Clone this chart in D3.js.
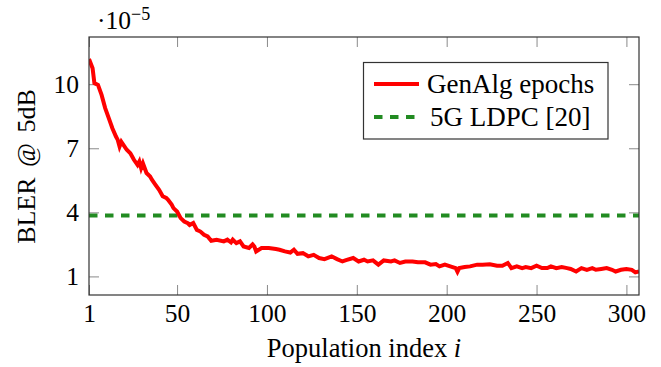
<!DOCTYPE html>
<html>
<head>
<meta charset="utf-8">
<script src="https://cdn.jsdelivr.net/npm/d3@7"></script>
<style>
  body { margin: 0; background: #fff; }
  text { font-family: "Liberation Serif", "Times New Roman", serif; fill: #000; }
</style>
</head>
<body>
<script>
// population index and BLER (x 1e-5)
const popIndex = [1, 3, 4, 6, 8, 10, 12, 14, 16, 17, 18, 19, 22, 24, 26, 28, 29, 30, 31, 33,
  35, 36, 38, 40, 42, 44, 45, 47, 48, 50, 52, 54, 56, 57, 59, 61, 63, 65, 67, 69,
  72, 76, 78, 80, 81, 83, 85, 87, 90, 92, 93, 94, 97, 101, 105, 107, 110, 113, 115, 117,
  120, 123, 126, 129, 132, 136, 139, 142, 144, 148, 151, 154, 156, 159, 162, 165, 169, 171, 174, 177,
  181, 184, 188, 191, 194, 196, 199, 202, 205, 206, 207, 210, 213, 217, 220, 224, 228, 231, 234, 236,
  239, 242, 244, 247, 250, 253, 256, 258, 261, 264, 267, 269, 272, 275, 278, 281, 283, 286, 289, 292,
  294, 297, 300, 303, 305, 307];
const genAlgBler = [11.18, 10.75, 10.05, 9.97, 9.5, 8.88, 8.41, 7.94, 7.55, 7.39, 7.08, 7.3, 6.93, 6.77, 6.46, 6.22, 6.38, 6.07, 6.3, 5.84,
  5.68, 5.53, 5.29, 5.06, 4.75, 4.67, 4.59, 4.36, 4.2, 4.04, 3.73, 3.57, 3.49, 3.41, 3.5, 3.18, 3.1, 2.95, 2.87, 2.67,
  2.72, 2.64, 2.72, 2.59, 2.72, 2.56, 2.64, 2.4, 2.33, 2.5, 2.4, 2.17, 2.33, 2.33, 2.28, 2.25, 2.17, 2.12, 2.25, 2.06,
  2.09, 1.94, 2.01, 1.86, 1.81, 1.94, 1.81, 1.7, 1.76, 1.86, 1.7, 1.78, 1.7, 1.75, 1.55, 1.75, 1.7, 1.75, 1.63, 1.7,
  1.7, 1.66, 1.66, 1.55, 1.58, 1.47, 1.55, 1.47, 1.39, 1.22, 1.39, 1.44, 1.47, 1.55, 1.55, 1.57, 1.5, 1.5, 1.63, 1.39,
  1.47, 1.39, 1.44, 1.39, 1.5, 1.39, 1.39, 1.47, 1.39, 1.44, 1.39, 1.35, 1.23, 1.39, 1.31, 1.39, 1.31, 1.35, 1.39, 1.31,
  1.23, 1.31, 1.35, 1.31, 1.19, 1.23];
const ldpcBler = 3.85;

const xTicks = [1, 50, 100, 150, 200, 250, 300];
const yTicks = [1, 4, 7, 10];
const seriesNames = ["GenAlg epochs", "5G LDPC [20]"];

function main(){
    const width = 661, height = 367;
    const left = 89, right = 639, top = 37, bottom = 295;
    const tickLen = 10;

    const svg = d3.select("body").append("svg")
        .attr("width", width)
        .attr("height", height);

    const xScale = d3.scaleLinear().domain([1, 307]).range([left, right]);
    const yScale = d3.scaleLinear().domain([0.13, 12.21]).range([bottom, top]);

    // ticks: inward, mirrored on all sides
    svg.append("g")
        .attr("transform", "translate(0," + bottom + ")")
        .call(d3.axisBottom(xScale).tickValues(xTicks).tickSize(-tickLen).tickPadding(9));
    svg.append("g")
        .attr("transform", "translate(0," + top + ")")
        .call(d3.axisTop(xScale).tickValues(xTicks).tickSize(-tickLen).tickFormat(""));
    svg.append("g")
        .attr("transform", "translate(" + left + ",0)")
        .call(d3.axisLeft(yScale).tickValues(yTicks).tickSize(-tickLen).tickPadding(10));
    svg.append("g")
        .attr("transform", "translate(" + right + ",0)")
        .call(d3.axisRight(yScale).tickValues(yTicks).tickSize(-tickLen).tickFormat(""));

    svg.selectAll(".domain").remove();
    svg.selectAll(".tick line").attr("stroke", "#8a8a8a").attr("stroke-width", 1);
    svg.selectAll(".tick text")
        .style("font-family", "'Liberation Serif', 'Times New Roman', serif")
        .style("font-size", "25.5px")
        .attr("fill", "#000");

    svg.append("clipPath").attr("id", "plotClip")
        .append("rect")
        .attr("x", left).attr("y", top)
        .attr("width", right - left).attr("height", bottom - top);

    // 5G LDPC reference
    svg.append("line")
        .attr("clip-path", "url(#plotClip)")
        .attr("x1", xScale(1)).attr("x2", xScale(307))
        .attr("y1", yScale(ldpcBler)).attr("y2", yScale(ldpcBler))
        .attr("stroke", "#228b22")
        .attr("stroke-width", 4)
        .attr("stroke-dasharray", "8.5,7.5");

    const line = d3.line()
        .x((d, i) => xScale(popIndex[i]))
        .y(d => yScale(d));

    svg.append("path")
        .datum(genAlgBler)
        .attr("clip-path", "url(#plotClip)")
        .attr("d", line)
        .attr("fill", "none")
        .attr("stroke", "#ff0000")
        .attr("stroke-width", 4)
        .attr("stroke-linejoin", "miter");

    // frame
    svg.append("rect")
        .attr("x", left).attr("y", top)
        .attr("width", right - left).attr("height", bottom - top)
        .attr("fill", "none")
        .attr("stroke", "#333")
        .attr("stroke-width", 1.2);

    // scale factor label
    const sf = svg.append("text")
        .attr("x", 97).attr("y", 28.5)
        .style("font-size", "25.5px");
    sf.append("tspan").text("\u00b710");
    sf.append("tspan").attr("dy", -9).style("font-size", "18px").text("\u22125");

    // axis labels
    svg.append("text")
        .attr("x", 364).attr("y", 357)
        .attr("text-anchor", "middle")
        .style("font-size", "26.5px")
        .html("Population index <tspan font-style='italic'>i</tspan>");

    svg.append("text")
        .attr("transform", "translate(35,166.5) rotate(-90)")
        .attr("text-anchor", "middle")
        .style("font-size", "26px")
        .style("word-spacing", "4px")
        .text("BLER @ 5dB");

    // legend
    const legend = svg.append("g");
    legend.append("rect")
        .attr("x", 363.5).attr("y", 62.5)
        .attr("width", 244.5).attr("height", 76.5)
        .attr("fill", "#fff")
        .attr("stroke", "#333")
        .attr("stroke-width", 1.2);
    legend.append("line")
        .attr("x1", 374).attr("x2", 419).attr("y1", 84).attr("y2", 84)
        .attr("stroke", "#ff0000").attr("stroke-width", 4);
    legend.append("text")
        .attr("x", 427).attr("y", 92.5)
        .style("font-size", "27px")
        .text(seriesNames[0]);
    legend.append("line")
        .attr("x1", 374).attr("x2", 417).attr("y1", 117).attr("y2", 117)
        .attr("stroke", "#228b22").attr("stroke-width", 4)
        .attr("stroke-dasharray", "8.5,7.5");
    legend.append("text")
        .attr("x", 430).attr("y", 125.5)
        .style("font-size", "27px")
        .text(seriesNames[1]);
}
main();
</script>
</body>
</html>
